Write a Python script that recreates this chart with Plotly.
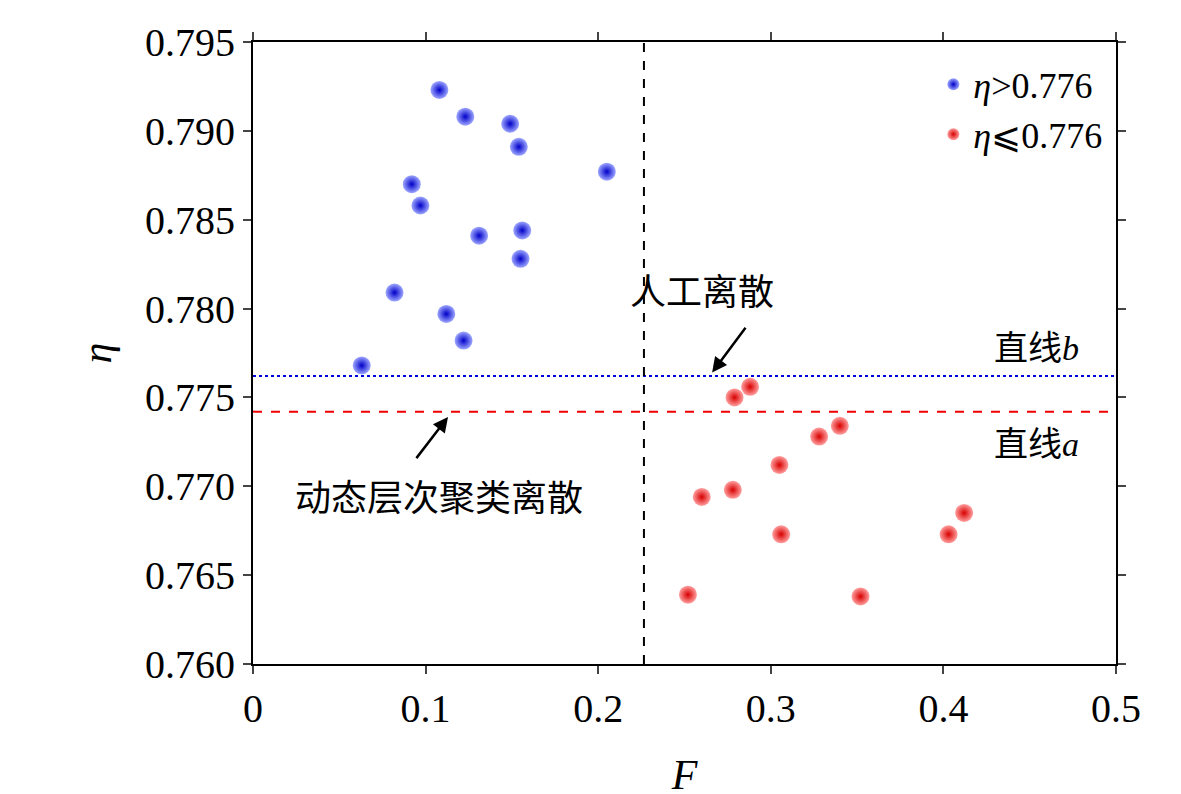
import plotly.graph_objects as go

blue_F = [0.108,0.123,0.149,0.154,0.205,0.092,0.097,0.131,0.156,0.155,0.082,0.112,0.122,0.063]
blue_eta = [0.7923,0.7908,0.7904,0.7891,0.7877,0.7870,0.7858,0.7841,0.7844,0.7828,0.7809,0.7797,0.7782,0.7768]
red_F = [0.279,0.288,0.328,0.340,0.305,0.260,0.278,0.306,0.403,0.412,0.252,0.352]
red_eta = [0.7750,0.7756,0.7728,0.7734,0.7712,0.7694,0.7698,0.7673,0.7673,0.7685,0.7639,0.7638]
line_b = 0.7762
line_a = 0.7742
F_split = 0.2265

serif = "Liberation Serif"
cjk = "Noto Sans CJK SC"
fig = go.Figure()
def ball(center, edge):
    return dict(size=18, color=center, gradient=dict(type="radial", color=edge), line=dict(width=0))
fig.add_trace(go.Scatter(x=blue_F, y=blue_eta, mode="markers", marker=ball("#9fa8ff", "#0000c8"), name="<i>η</i>>0.776"))
fig.add_trace(go.Scatter(x=red_F, y=red_eta, mode="markers", marker=ball("#ffa0a0", "#d80000"), name="<i>η</i>⩽0.776"))
fig.add_shape(type="line", x0=0, x1=0.5, y0=line_b, y1=line_b, line=dict(color="#0000dd", dash="dot", width=2))
fig.add_shape(type="line", x0=0, x1=0.5, y0=line_a, y1=line_a, line=dict(color="#ee0000", dash="dash", width=2))
fig.add_shape(type="line", x0=F_split, x1=F_split, y0=0.760, y1=0.795, line=dict(color="black", dash="dash", width=2))
fig.add_annotation(x=0.266, y=0.7764, ax=0.286, ay=0.7790, axref="x", ayref="y", text="", showarrow=True,
                   arrowhead=2, arrowsize=1.2, arrowwidth=2.5, arrowcolor="black")
fig.add_annotation(x=0.26, y=0.7811, text="人工离散", showarrow=False, font=dict(family=cjk, size=36, color="black"))
fig.add_annotation(x=0.113, y=0.7739, ax=0.094, ay=0.7715, axref="x", ayref="y", text="", showarrow=True,
                   arrowhead=2, arrowsize=1.2, arrowwidth=2.5, arrowcolor="black")
fig.add_annotation(x=0.108, y=0.7695, text="动态层次聚类离散", showarrow=False, font=dict(family=cjk, size=36, color="black"))
fig.add_annotation(x=0.48, y=0.7779, text="直线<span style='font-family:Liberation Serif'><i>b</i></span>", showarrow=False,
                   xanchor="right", font=dict(family=cjk, size=34, color="black"))
fig.add_annotation(x=0.48, y=0.7725, text="直线<span style='font-family:Liberation Serif'><i>a</i></span>", showarrow=False,
                   xanchor="right", font=dict(family=cjk, size=34, color="black"))
axis = dict(showgrid=False, zeroline=False, showline=True, linecolor="black", linewidth=2, mirror="ticks",
            ticks="outside", ticklen=8, tickwidth=2, tickfont=dict(family=serif, size=40, color="black"))
fig.update_xaxes(**axis, range=[0, 0.5], tickvals=[0,0.1,0.2,0.3,0.4,0.5], ticktext=["0","0.1","0.2","0.3","0.4","0.5"],
                 title=dict(text="<i>F</i>", font=dict(family=serif, size=42, color="black"), standoff=30))
fig.update_yaxes(**axis, range=[0.760, 0.795], dtick=0.005, tickformat=".3f",
                 title=dict(text="<i>η</i>", font=dict(family=serif, size=42, color="black"), standoff=20))
fig.update_layout(width=1181, height=794, plot_bgcolor="white", paper_bgcolor="white",
                  margin=dict(l=245, r=73, t=24, b=131), showlegend=True,
                  legend=dict(x=0.99, y=0.98, xanchor="right", yanchor="top", font=dict(family=serif, size=36, color="black"),
                              bgcolor="rgba(0,0,0,0)", itemsizing="constant"))
fig.write_html("out.html")
